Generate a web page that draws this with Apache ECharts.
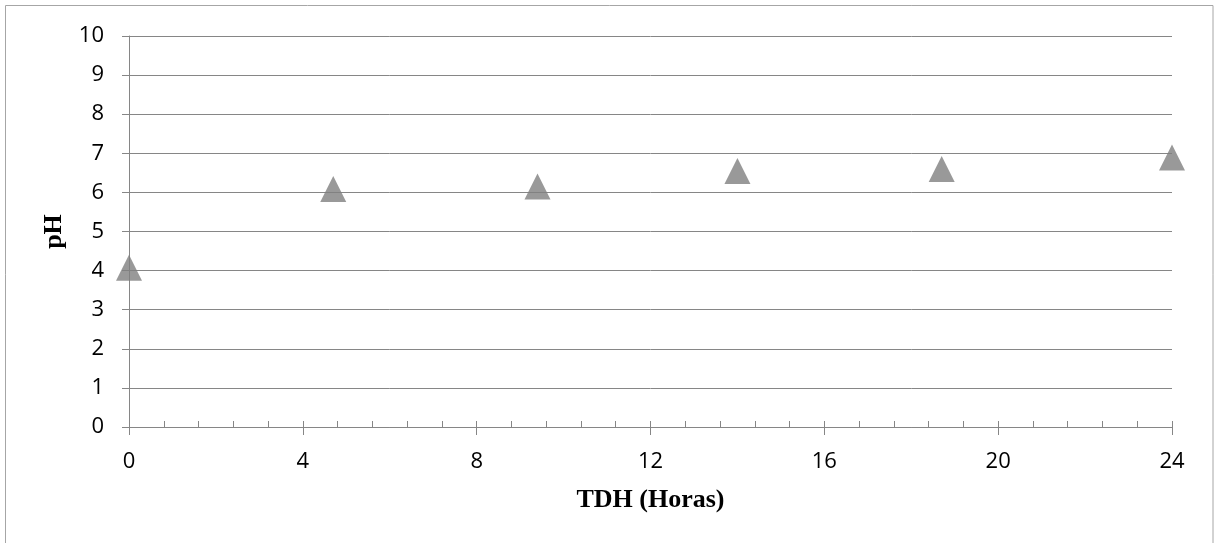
<!DOCTYPE html>
<html>
<head>
<meta charset="utf-8">
<script src="https://cdn.jsdelivr.net/npm/echarts@6/dist/echarts.min.js"></script>
<style>
  html, body { margin: 0; padding: 0; background: #fff; }
  #chart { width: 1214px; height: 543px; }
</style>
</head>
<body>
<div id="chart"></div>
<script>
// Hydraulic retention time (hours) and measured pH
const tdhHours = [0, 4.7, 9.4, 14, 18.7, 24];
const phValues = [4.07, 6.09, 6.15, 6.55, 6.6, 6.89];

const xAxisTitle = 'TDH (Horas)';
const yAxisTitle = 'pH';

const points = tdhHours.map((t, i) => [t, phValues[i]]);

const gray = '#868686';
const tickFont = { fontFamily: 'Open Sans', fontSize: 22, color: '#000' };
const titleFont = { fontFamily: 'Liberation Serif', fontSize: 26, fontWeight: 'bold', color: '#000' };

const chart = echarts.init(document.getElementById('chart'), null, { renderer: 'canvas' });

chart.setOption({
  animation: false,
  backgroundColor: '#fff',
  grid: { left: 129, right: 42, top: 36, bottom: 116, containLabel: false },
  graphic: [{
    type: 'rect',
    shape: { x: 5.5, y: 5.5, width: 1207.5, height: 600 },
    style: { fill: 'none', stroke: '#a6a6a6', lineWidth: 1 },
    silent: true
  }],
  xAxis: [{
    type: 'value',
    position: 'bottom',
    min: 0, max: 24, interval: 4,
    name: xAxisTitle,
    nameLocation: 'middle',
    nameGap: 60,
    nameTextStyle: titleFont,
    axisLine: { show: true, lineStyle: { color: gray, width: 1 } },
    axisTick: { show: true, inside: true, length: 6, lineStyle: { color: gray } },
    minorTick: { show: true, splitNumber: 5, length: 6, lineStyle: { color: gray } },
    axisLabel: Object.assign({ margin: 24 }, tickFont),
    splitLine: { show: false }
  }, {
    // outward half of the major ticks, so they cross the axis line
    type: 'value',
    position: 'bottom',
    min: 0, max: 24, interval: 4,
    axisLine: { show: false },
    axisTick: { show: true, inside: false, length: 8, lineStyle: { color: gray } },
    axisLabel: { show: false },
    splitLine: { show: false }
  }],
  yAxis: {
    type: 'value',
    min: 0, max: 10, interval: 1,
    name: yAxisTitle,
    nameLocation: 'middle',
    nameGap: 62,
    nameTextStyle: titleFont,
    axisLine: { show: true, lineStyle: { color: gray, width: 1 } },
    axisTick: { show: true, inside: false, length: 7, lineStyle: { color: gray } },
    axisLabel: Object.assign({ margin: 25 }, tickFont),
    splitLine: { show: true, lineStyle: { color: gray, width: 1 } }
  },
  series: [{
    type: 'scatter',
    xAxisIndex: 0,
    data: points,
    symbol: 'triangle',
    symbolSize: [26, 26],
    itemStyle: { color: '#808080' }
  }]
});
</script>
</body>
</html>
